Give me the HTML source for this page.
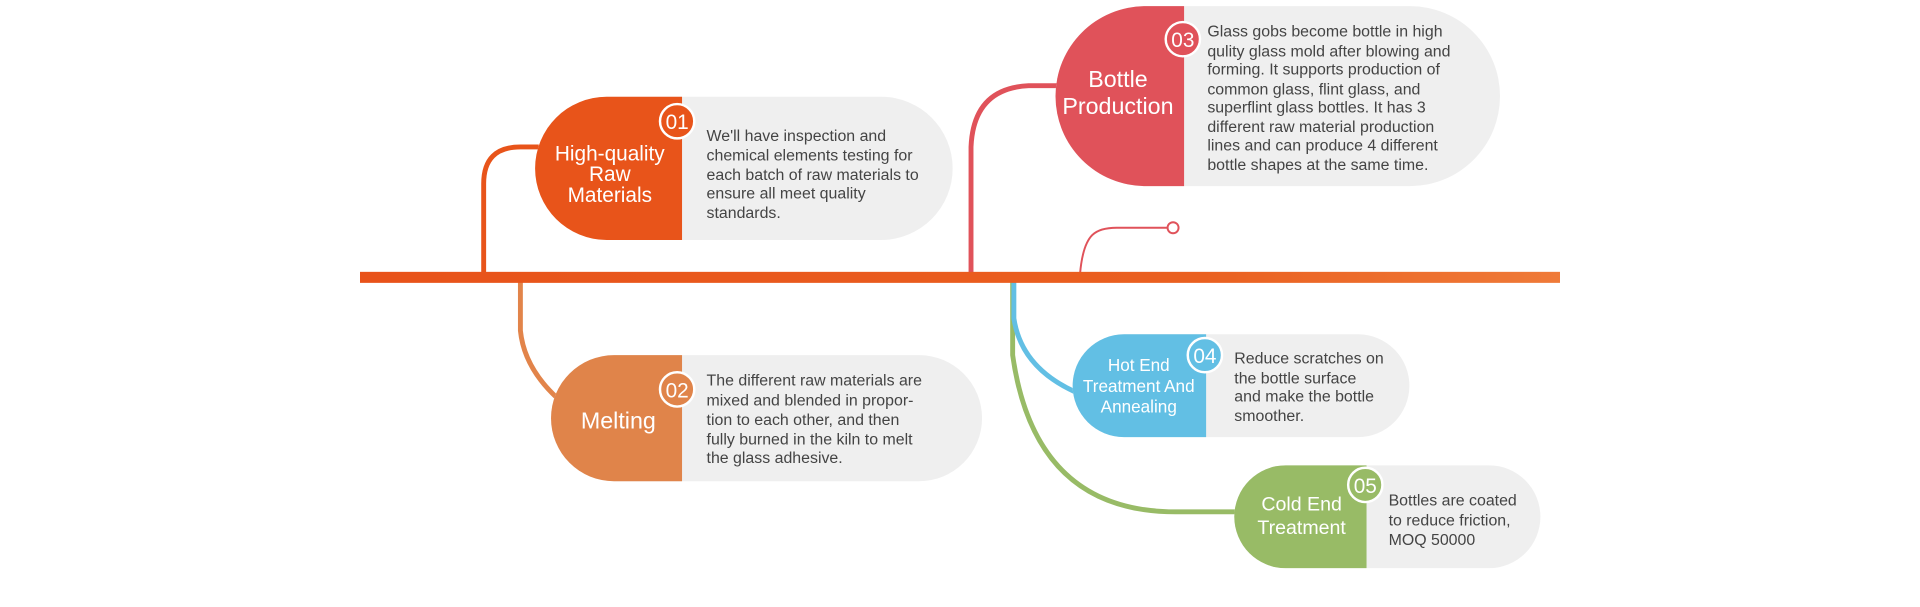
<!DOCTYPE html>
<html><head><meta charset="utf-8"><style>
html,body{margin:0;padding:0;background:#fff;width:1920px;height:607px;overflow:hidden}
svg{display:block}
text{font-family:"Liberation Sans",sans-serif}
.t{font-size:13px;fill:#444}
.h{fill:#fff;text-anchor:middle}
.b{fill:#fff;font-size:17px;text-anchor:middle}
</style></head><body>
<svg width="1920" height="607" viewBox="0 0 1568 495.7" preserveAspectRatio="none" xmlns="http://www.w3.org/2000/svg">
<defs>
<linearGradient id="g" x1="0" x2="1"><stop offset="0" stop-color="#e8521a"/><stop offset="0.7" stop-color="#ea6020"/><stop offset="1" stop-color="#ef7a38"/></linearGradient>
</defs>
<!-- connectors -->
<path d="M395 226 V150 Q395 120 425 120 H440" fill="none" stroke="#e8541a" stroke-width="4"/>
<path d="M425 226 V270 Q428 300 455 325" fill="none" stroke="#e2844a" stroke-width="4"/>
<path d="M793 226 V120 Q795 72 840 70 H865" fill="none" stroke="#e0525a" stroke-width="4"/>
<path d="M882 224 Q884 200 892 192 Q898 186 912 186 H953" fill="none" stroke="#e0525a" stroke-width="1.6"/>
<circle cx="958" cy="186" r="4.5" fill="#fff" stroke="#e0525a" stroke-width="1.6"/>
<path d="M827 230 V290 Q845 418 960 418 H1010" fill="none" stroke="#98bb66" stroke-width="4"/>
<path d="M828 230 V260 Q834 300 878 320" fill="none" stroke="#62bfe4" stroke-width="4"/>
<!-- main line -->
<rect x="294" y="222" width="980" height="9" fill="url(#g)"/>
<!-- pill 01 -->
<rect x="437" y="79" width="341" height="117" rx="58.5" fill="#efefef"/>
<path d="M557 79 H495.5 A58.5 58.5 0 0 0 495.5 196 H557 Z" fill="#e8541a"/>
<circle cx="553" cy="99" r="14" fill="#e8541a" stroke="#fff" stroke-width="2"/>
<text x="553" y="105.5" class="b">01</text>
<text class="h" font-size="17" x="498"><tspan x="498" y="131">High-quality</tspan><tspan x="498" y="148">Raw</tspan><tspan x="498" y="165">Materials</tspan></text>
<text class="t"><tspan x="577" y="115">We'll have inspection and</tspan><tspan x="577" y="131">chemical elements testing for</tspan><tspan x="577" y="147">each batch of raw materials to</tspan><tspan x="577" y="162">ensure all meet quality</tspan><tspan x="577" y="178">standards.</tspan></text>
<!-- pill 03 -->
<rect x="862" y="5" width="363" height="147" rx="73.5" fill="#efefef"/>
<path d="M967 5 H935.5 A73.5 73.5 0 0 0 935.5 152 H967 Z" fill="#e0525a"/>
<circle cx="966" cy="32" r="14" fill="#e0525a" stroke="#fff" stroke-width="2"/>
<text x="966" y="38.5" class="b">03</text>
<text class="h" font-size="19"><tspan x="913" y="71">Bottle</tspan><tspan x="913" y="93">Production</tspan></text>
<text class="t"><tspan x="986" y="30">Glass gobs become bottle in high</tspan><tspan x="986" y="46">qulity glass mold after blowing and</tspan><tspan x="986" y="61">forming. It supports production of</tspan><tspan x="986" y="77">common glass, flint glass, and</tspan><tspan x="986" y="92">superflint glass bottles. It has 3</tspan><tspan x="986" y="108">different raw material production</tspan><tspan x="986" y="123">lines and can produce 4 different</tspan><tspan x="986" y="139">bottle shapes at the same time.</tspan></text>
<!-- pill 02 -->
<rect x="450" y="290" width="352" height="103" rx="51.5" fill="#efefef"/>
<path d="M557 290 H501.5 A51.5 51.5 0 0 0 501.5 393 H557 Z" fill="#e0844a"/>
<circle cx="553" cy="318" r="14" fill="#e0844a" stroke="#fff" stroke-width="2"/>
<text x="553" y="324.5" class="b">02</text>
<text class="h" font-size="19" x="505" y="350">Melting</text>
<text class="t"><tspan x="577" y="315">The different raw materials are</tspan><tspan x="577" y="331">mixed and blended in propor-</tspan><tspan x="577" y="347">tion to each other, and then</tspan><tspan x="577" y="363">fully burned in the kiln to melt</tspan><tspan x="577" y="378">the glass adhesive.</tspan></text>
<!-- pill 04 -->
<rect x="876" y="273" width="275" height="84" rx="42" fill="#efefef"/>
<path d="M985 273 H918 A42 42 0 0 0 918 357 H985 Z" fill="#62bfe4"/>
<circle cx="984" cy="290" r="14" fill="#62bfe4" stroke="#fff" stroke-width="2"/>
<text x="984" y="296.5" class="b">04</text>
<text class="h" font-size="14"><tspan x="930" y="303">Hot End</tspan><tspan x="930" y="320">Treatment And</tspan><tspan x="930" y="337">Annealing</tspan></text>
<text class="t"><tspan x="1008" y="297">Reduce scratches on</tspan><tspan x="1008" y="313">the bottle surface</tspan><tspan x="1008" y="328">and make the bottle</tspan><tspan x="1008" y="344">smoother.</tspan></text>
<!-- pill 05 -->
<rect x="1008" y="380" width="250" height="84" rx="42" fill="#efefef"/>
<path d="M1116 380 H1050 A42 42 0 0 0 1050 464 H1116 Z" fill="#98bb66"/>
<circle cx="1115" cy="396" r="14" fill="#98bb66" stroke="#fff" stroke-width="2"/>
<text x="1115" y="402.5" class="b">05</text>
<text class="h" font-size="16"><tspan x="1063" y="417">Cold End</tspan><tspan x="1063" y="436">Treatment</tspan></text>
<text class="t"><tspan x="1134" y="413">Bottles are coated</tspan><tspan x="1134" y="429">to reduce friction,</tspan><tspan x="1134" y="445">MOQ 50000</tspan></text>
</svg>
</body></html>
